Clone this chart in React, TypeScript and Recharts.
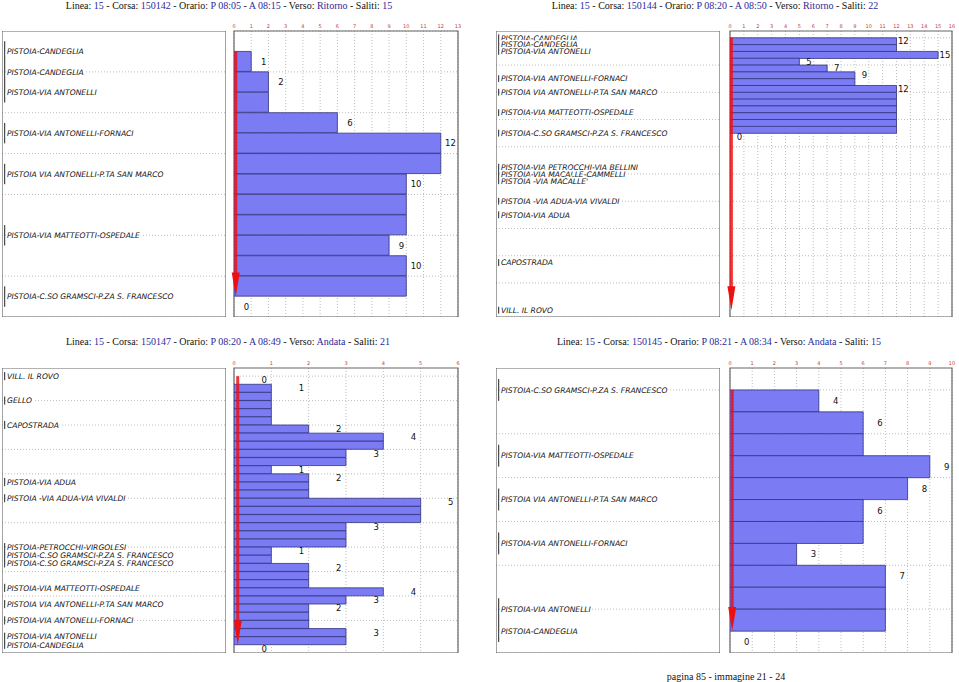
import React from 'react';
import { ComposedChart, Bar, Scatter, XAxis, YAxis, CartesianGrid, ReferenceLine, ReferenceArea } from 'recharts';

// Corsa 150142 (top left)
const stops142 = [
    'PISTOIA-CANDEGLIA',
    'PISTOIA-CANDEGLIA',
    'PISTOIA-VIA ANTONELLI',
    'PISTOIA-VIA ANTONELLI-FORNACI',
    'PISTOIA VIA ANTONELLI-P.TA SAN MARCO',
    'PISTOIA-VIA MATTEOTTI-OSPEDALE',
    'PISTOIA-C.SO GRAMSCI-P.ZA S. FRANCESCO',
];
const stopPos142 = [0, 1, 2, 4, 6, 9, 12];
const onBoard142 = [1, 2, 2, 6, 12, 12, 10, 10, 10, 9, 10, 10, 0];
const xTicks142 = [0, 1, 2, 3, 4, 5, 6, 7, 8, 9, 10, 11, 12, 13];

// Corsa 150144 (top right)
const stops144 = [
    'PISTOIA-CANDEGLIA',
    'PISTOIA-CANDEGLIA',
    'PISTOIA-VIA ANTONELLI',
    'PISTOIA-VIA ANTONELLI-FORNACI',
    'PISTOIA VIA ANTONELLI-P.TA SAN MARCO',
    'PISTOIA-VIA MATTEOTTI-OSPEDALE',
    'PISTOIA-C.SO GRAMSCI-P.ZA S. FRANCESCO',
    'PISTOIA-VIA PETROCCHI-VIA BELLINI',
    'PISTOIA-VIA MACALLE-CAMMELLI',
    "PISTOIA -VIA MACALLE'",
    'PISTOIA -VIA ADUA-VIA VIVALDI',
    'PISTOIA-VIA ADUA',
    'CAPOSTRADA',
    'VILL. IL ROVO',
];
const stopPos144 = [0, 1, 2, 6, 8, 11, 14, 19, 20, 21, 24, 26, 33, 40];
const onBoard144 = [12, 12, 15, 5, 7, 9, 9, 12, 12, 12, 12, 12, 12, 12, 0];
const xTicks144 = [0, 1, 2, 3, 4, 5, 6, 7, 8, 9, 10, 11, 12, 13, 14, 15, 16];

// Corsa 150147 (bottom left)
const stops147 = [
    'VILL. IL ROVO',
    'GELLO',
    'CAPOSTRADA',
    'PISTOIA-VIA ADUA',
    'PISTOIA -VIA ADUA-VIA VIVALDI',
    'PISTOIA-PETROCCHI-VIRGOLESI',
    'PISTOIA-C.SO GRAMSCI-P.ZA S. FRANCESCO',
    'PISTOIA-C.SO GRAMSCI-P.ZA S. FRANCESCO',
    'PISTOIA-VIA MATTEOTTI-OSPEDALE',
    'PISTOIA VIA ANTONELLI-P.TA SAN MARCO',
    'PISTOIA-VIA ANTONELLI-FORNACI',
    'PISTOIA-VIA ANTONELLI',
    'PISTOIA-CANDEGLIA',
];
const stopPos147 = [0, 3, 6, 13, 15, 21, 22, 23, 26, 28, 30, 32, 33];
const onBoard147 = [0, 1, 1, 1, 1, 1, 2, 4, 4, 3, 3, 1, 2, 2, 2, 5, 5, 5, 3, 3, 3, 1, 1, 2, 2, 2, 4, 3, 2, 2, 2, 3, 3, 0];
const xTicks147 = [0, 1, 2, 3, 4, 5, 6];

// Corsa 150145 (bottom right)
const stops145 = [
    'PISTOIA-C.SO GRAMSCI-P.ZA S. FRANCESCO',
    'PISTOIA-VIA MATTEOTTI-OSPEDALE',
    'PISTOIA VIA ANTONELLI-P.TA SAN MARCO',
    'PISTOIA-VIA ANTONELLI-FORNACI',
    'PISTOIA-VIA ANTONELLI',
    'PISTOIA-CANDEGLIA',
];
const stopPos145 = [0, 3, 5, 7, 10, 11];
const onBoard145 = [4, 6, 6, 9, 8, 6, 6, 3, 7, 7, 7, 0];
const xTicks145 = [0, 1, 2, 3, 4, 5, 6, 7, 8, 9, 10];

const AXIS_H = 14;
const SIDE = 6;

type PanelProps = {
    leftX: number;
    rightX: number;
    top: number;
    h: number;
    rightW: number;
    titleX: number;
    titleY: number;
    corsa: string;
    partenza: string;
    arrivo: string;
    verso: string;
    saliti: string;
    stops: string[];
    stopPos: number[];
    onBoard: number[];
    xTicks: number[];
};

const Title = ({ x, y, p }: { x: number; y: number; p: PanelProps }) => {
    const v = { color: '#2b2b9a' };
    return (
        <div
            style={{
                position: 'absolute',
                left: x - 250,
                top: y - 7,
                width: 500,
                textAlign: 'center',
                fontFamily: '"Liberation Serif", serif',
                fontSize: 10,
                lineHeight: '14px',
                whiteSpace: 'nowrap',
                color: '#111',
            }}
        >
            Linea: <span style={v}>15</span> - Corsa: <span style={v}>{p.corsa}</span> - Orario:{' '}
            <span style={v}>P {p.partenza}</span> - <span style={v}>A {p.arrivo}</span> - Verso:{' '}
            <span style={v}>{p.verso}</span> - Saliti: <span style={v}>{p.saliti}</span>
        </div>
    );
};

const StopName = (s: any) => (
    <text
        x={Number(s.cx) + 5}
        y={Number(s.cy)}
        dy={2.7}
        textAnchor="start"
        fontFamily="DejaVu Sans"
        fontStyle="italic"
        fontSize={7.6}
        fill="#111"
        stroke="#fff"
        strokeWidth={3}
        paintOrder="stroke"
    >
        {s.payload.name}
    </text>
);

const Arrow = (props: any) => {
    const { x1, y1, y2 } = props;
    const top = Math.min(Number(y1), Number(y2));
    const bot = Math.max(Number(y1), Number(y2));
    const x = Number(x1);
    return (
        <g>
            <line x1={x} y1={top} x2={x} y2={bot - 18} stroke="#ee1010" strokeOpacity={0.85} strokeWidth={3} />
            <polygon points={`${x - 4},${bot - 24} ${x + 4},${bot - 24} ${x},${bot}`} fill="#ee1010" />
        </g>
    );
};

// little inside ticks along a vertical box edge
const edgeTicks = (id: string, side: 'left' | 'right', domain: [number, number], ticks: number[]) => (
    <YAxis
        yAxisId={id}
        type="number"
        orientation={side}
        domain={domain}
        ticks={ticks}
        interval={0}
        mirror
        width={0}
        axisLine={false}
        tickSize={3}
        tickLine={{ stroke: '#555', strokeWidth: 0.8 }}
        tick={<g />}
        allowDataOverflow
    />
);

const Panel = (p: PanelProps) => {
    const lastPos = p.stopPos[p.stopPos.length - 1];
    const xMax = p.xTicks[p.xTicks.length - 1];
    const ppu = p.rightW / xMax;
    const posTicks: number[] = [];
    for (let i = -1; i <= lastPos + 1; i++) posTicks.push(i);

    const rows = [];
    const labels = [];
    for (let r = -1; r <= lastPos; r++) {
        const v = r >= 0 && r < p.onBoard.length ? p.onBoard[r] : null;
        rows.push({ r: String(r), v });
        if (v !== null && (r === 0 || p.onBoard[r] !== p.onBoard[r - 1])) {
            labels.push({ v, c: r + 0.5, lab: String(v) });
        }
    }

    const stopRows = p.stopPos.map((pos, i) => ({ x0: 0, pos, name: p.stops[i] }));

    // consecutive stops are bracketed together
    const groups: number[][] = [];
    p.stopPos.forEach((pos) => {
        const g = groups[groups.length - 1];
        if (g && g[1] === pos - 1) g[1] = pos;
        else groups.push([pos, pos]);
    });

    const domainY: [number, number] = [-1, lastPos + 1];
    const leftW = 224;

    return (
        <>
            <Title x={p.titleX} y={p.titleY} p={p} />
            <div style={{ position: 'absolute', left: p.leftX, top: p.top }}>
                <ComposedChart
                    layout="vertical"
                    width={leftW}
                    height={p.h}
                    data={rows}
                    margin={{ top: 0, right: 0, bottom: 0, left: 0 }}
                >
                    <CartesianGrid
                        xAxisId="x"
                        yAxisId="num"
                        vertical={false}
                        horizontalValues={posTicks}
                        stroke="#bdbdbd"
                        strokeDasharray="1 2"
                    />
                    <XAxis xAxisId="x" type="number" dataKey="x0" domain={[0, 1]} hide height={0} allowDataOverflow />
                    <YAxis yAxisId="cat" type="category" dataKey="r" hide width={0} />
                    <YAxis yAxisId="num" type="number" dataKey="pos" domain={domainY} ticks={posTicks} hide width={0} allowDataOverflow />
                    {edgeTicks('tl', 'left', domainY, posTicks)}
                    {edgeTicks('tr', 'right', domainY, posTicks)}
                    <Scatter xAxisId="x" yAxisId="num" data={stopRows} dataKey="pos" isAnimationActive={false} shape={<StopName />} />
                    {groups.map((g, i) => (
                        <ReferenceLine
                            key={i}
                            xAxisId="x"
                            yAxisId="num"
                            segment={[
                                { x: 0.012, y: g[0] - 0.5 },
                                { x: 0.012, y: g[1] + 0.5 },
                            ]}
                            stroke="#222"
                            strokeWidth={1}
                        />
                    ))}
                    <ReferenceArea
                        xAxisId="x"
                        yAxisId="num"
                        x1={0}
                        x2={1}
                        y1={domainY[0]}
                        y2={domainY[1]}
                        ifOverflow="visible"
                        fill="none"
                        stroke="#666"
                        strokeWidth={1.2}
                    />
                </ComposedChart>
            </div>
            <div style={{ position: 'absolute', left: p.rightX - SIDE, top: p.top - AXIS_H }}>
                <ComposedChart
                    layout="vertical"
                    width={p.rightW + 2 * SIDE}
                    height={p.h + AXIS_H}
                    data={rows}
                    margin={{ top: 0, right: SIDE, bottom: 0, left: SIDE }}
                    barCategoryGap={0}
                    barGap={0}
                >
                    <CartesianGrid
                        xAxisId="x"
                        yAxisId="num"
                        horizontalValues={posTicks}
                        verticalValues={p.xTicks}
                        stroke="#bdbdbd"
                        strokeDasharray="1 2"
                    />
                    <XAxis
                        xAxisId="x"
                        type="number"
                        dataKey="v"
                        orientation="top"
                        domain={[0, xMax]}
                        ticks={p.xTicks}
                        interval={0}
                        height={AXIS_H}
                        axisLine={false}
                        tickLine={false}
                        tickSize={0}
                        tickMargin={3}
                        tick={{ fontSize: 5, fill: '#c24040', fontFamily: 'DejaVu Sans' }}
                        allowDataOverflow
                    />
                    <YAxis yAxisId="cat" type="category" dataKey="r" hide width={0} />
                    <YAxis yAxisId="num" type="number" dataKey="c" domain={domainY} ticks={posTicks} hide width={0} allowDataOverflow />
                    {edgeTicks('tr', 'right', domainY, posTicks)}
                    <Bar xAxisId="x" yAxisId="cat" dataKey="v" fill="#7b7bf3" stroke="#33337f" strokeWidth={0.8} isAnimationActive={false} />
                    <Scatter
                        xAxisId="x"
                        yAxisId="num"
                        data={labels}
                        dataKey="v"
                        isAnimationActive={false}
                        shape={(s: any) => (
                            <text
                                x={Number(s.cx) + 0.88 * ppu}
                                y={Number(s.cy)}
                                dy={3}
                                textAnchor="end"
                                fontFamily="DejaVu Sans"
                                fontSize={8.5}
                                fill="#111"
                            >
                                {s.payload.lab}
                            </text>
                        )}
                    />
                    <ReferenceArea xAxisId="x" yAxisId="num" x1={0} x2={xMax} y1={domainY[0]} y2={domainY[1]} fill="none" stroke="#666" strokeWidth={1.2} />
                    <ReferenceLine
                        xAxisId="x"
                        yAxisId="num"
                        segment={[
                            { x: 0.1, y: 0 },
                            { x: 0.1, y: lastPos },
                        ]}
                        shape={<Arrow />}
                    />
                </ComposedChart>
            </div>
        </>
    );
};

const App = () => {
    return (
        <div style={{ position: 'absolute', left: 0, top: 0, width: 959, height: 682, background: '#fff' }}>
            <Panel
                leftX={2} rightX={234} top={31} h={286} rightW={224} titleX={229} titleY={6}
                corsa="150142" partenza="08:05" arrivo="08:15" verso="Ritorno" saliti="15"
                stops={stops142} stopPos={stopPos142} onBoard={onBoard142} xTicks={xTicks142}
            />
            <Panel
                leftX={496} rightX={730} top={31} h={286} rightW={222} titleX={715} titleY={6}
                corsa="150144" partenza="08:20" arrivo="08:50" verso="Ritorno" saliti="22"
                stops={stops144} stopPos={stopPos144} onBoard={onBoard144} xTicks={xTicks144}
            />
            <Panel
                leftX={2} rightX={234} top={368} h={285} rightW={224} titleX={228} titleY={342}
                corsa="150147" partenza="08:20" arrivo="08:49" verso="Andata" saliti="21"
                stops={stops147} stopPos={stopPos147} onBoard={onBoard147} xTicks={xTicks147}
            />
            <Panel
                leftX={496} rightX={730} top={368} h={285} rightW={222} titleX={719} titleY={342}
                corsa="150145" partenza="08:21" arrivo="08:34" verso="Andata" saliti="15"
                stops={stops145} stopPos={stopPos145} onBoard={onBoard145} xTicks={xTicks145}
            />
            <div
                style={{
                    position: 'absolute',
                    left: 626,
                    top: 671,
                    width: 200,
                    textAlign: 'center',
                    fontFamily: '"Liberation Serif", serif',
                    fontSize: 10,
                    lineHeight: '11px',
                    color: '#111',
                }}
            >
                pagina 85 - immagine 21 - 24
            </div>
        </div>
    );
};

export default App;
